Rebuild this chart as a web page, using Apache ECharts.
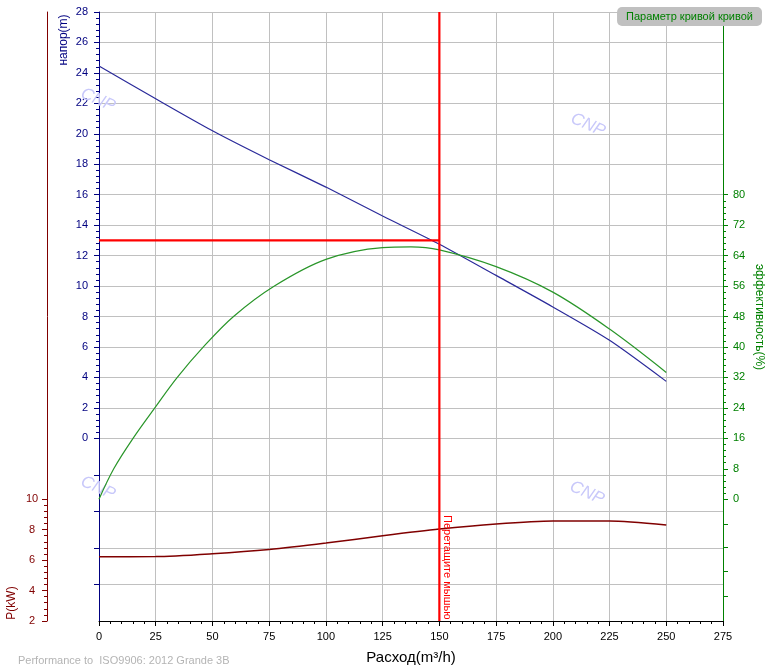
<!DOCTYPE html>
<html>
<head>
<meta charset="utf-8">
<script src="https://cdn.jsdelivr.net/npm/echarts@6/dist/echarts.min.js"></script>
<style>
html,body{margin:0;padding:0;background:#fff;}
#chart{width:769px;height:672px;}
</style>
</head>
<body>
<div id="chart"></div>
<script>
// ---- data ----
const flow = [0, 25, 50, 75, 100, 125, 150, 175, 200, 225, 250];
const head = [24.45, 22.3, 20.2, 18.3, 16.5, 14.6, 12.75, 10.7, 8.63, 6.44, 3.74];
const power = [6.22, 6.23, 6.42, 6.7, 7.12, 7.6, 8.04, 8.37, 8.56, 8.56, 8.31];
const effFlow = [0, 6.5, 15, 24.6, 34.5, 46, 59.3, 77.3, 100, 125, 137.5, 150, 175, 200, 225, 250];
const eff = [0, 8, 16, 24, 32, 40, 48, 56, 63, 66.1, 66.3, 65.5, 61.1, 54.4, 44.7, 33.3];
const cursorFlow = 150;
const cursorHead = 13;
const xTicks = [0, 25, 50, 75, 100, 125, 150, 175, 200, 225, 250, 275];
const headLabels = [0, 2, 4, 6, 8, 10, 12, 14, 16, 18, 20, 22, 24, 26, 28];
const headExtraTicks = [-2.4, -4.8, -7.2, -9.6];
const powerLabels = [2, 4, 6, 8, 10];
const effLabels = [0, 8, 16, 24, 32, 40, 48, 56, 64, 72, 80];
const effExtraTicks = [-6.7, -12.7, -19, -25.5];

const FONT = 'Liberation Sans, Arial, sans-serif';
const NAVY = '#000080', DRED = '#800000', GREEN = '#008000';

function minors(lo, hi, step, sub) {
  const out = [];
  const n = Math.round((hi - lo) / step) * sub;
  for (let i = 0; i <= n; i++) {
    if (i % sub === 0) continue;
    out.push(+(lo + i * step / sub).toFixed(4));
  }
  return out;
}

const chart = echarts.init(document.getElementById('chart'), null, {renderer: 'canvas'});

const splitColors = [];
for (let i = 0; i < 20; i++) splitColors.push('#c0c0c0');
splitColors.push('#ffc0c0');

const option = {
  animation: false,
  backgroundColor: '#fff',
  textStyle: {fontFamily: FONT},
  title: {
    text: 'Параметр кривой кривой',
    right: 7, top: 7,
    backgroundColor: '#c0c0c0',
    borderRadius: 5,
    padding: [4, 9, 4, 9],
    textStyle: {color: GREEN, fontSize: 11, fontWeight: 'normal', fontFamily: FONT}
  },
  grid: {left: 99, right: 46, top: 12, bottom: 51},
  xAxis: {
    type: 'value', min: 0, max: 275, interval: 25,
    axisLine: {onZero: false, lineStyle: {color: '#000', width: 1}},
    axisTick: {length: 5, lineStyle: {color: '#000'}},
    minorTick: {show: true, splitNumber: 5, length: 3, lineStyle: {color: '#000'}},
    axisLabel: {color: '#000', fontSize: 11, margin: 10, fontFamily: FONT,
      customValues: xTicks},
    splitLine: {show: true, lineStyle: {color: '#c0c0c0', width: 1}},
    name: 'Расход(m³/h)', nameLocation: 'middle', nameGap: 29,
    nameTextStyle: {color: '#000', fontSize: 15, fontFamily: FONT}
  },
  yAxis: [
    { // 0 head
      type: 'value', position: 'left', offset: 0, min: -12, max: 28, interval: 2,
      axisLine: {show: true, onZero: false, lineStyle: {color: NAVY, width: 1}},
      axisTick: {show: true, length: 5, lineStyle: {color: NAVY}, customValues: headLabels.concat(headExtraTicks)},
      axisLabel: {color: NAVY, fontSize: 11, margin: 11, fontFamily: FONT, customValues: headLabels,
        formatter: v => (v < 0 ? '' : String(v))},
      splitLine: {show: true, lineStyle: {color: splitColors, width: 1}}
    },
    { // 1 power
      type: 'value', position: 'left', offset: 52, min: 2, max: 42, interval: 2,
      axisLine: {show: true, onZero: false, lineStyle: {color: DRED, width: 1}},
      axisTick: {show: true, length: 5, lineStyle: {color: DRED}, customValues: powerLabels},
      axisLabel: {color: DRED, fontSize: 11, margin: 15, align: 'center', fontFamily: FONT, customValues: powerLabels,
        formatter: v => (v > 10 ? '' : String(v))},
      splitLine: {show: false}
    },
    { // 2 efficiency
      type: 'value', position: 'right', offset: 0, min: -32, max: 128, interval: 8,
      axisLine: {show: true, onZero: false, lineStyle: {color: GREEN, width: 1}},
      axisTick: {show: true, length: 5, lineStyle: {color: GREEN}, customValues: effLabels.concat(effExtraTicks)},
      axisLabel: {color: GREEN, fontSize: 11, margin: 10, fontFamily: FONT, customValues: effLabels,
        formatter: v => (v < 0 || v > 80 ? '' : String(v))},
      splitLine: {show: false}
    },
    { // 3 head minor ticks
      type: 'value', position: 'left', offset: 0, min: -12, max: 28, interval: 2,
      axisLine: {show: false, onZero: false},
      axisTick: {show: true, length: 3, lineStyle: {color: NAVY}, customValues: minors(0, 28, 2, 5)},
      axisLabel: {show: false}, splitLine: {show: false}
    },
    { // 4 power minor ticks
      type: 'value', position: 'left', offset: 52, min: 2, max: 42, interval: 2,
      axisLine: {show: false, onZero: false},
      axisTick: {show: true, length: 3, lineStyle: {color: DRED}, customValues: minors(2, 10, 2, 5)},
      axisLabel: {show: false}, splitLine: {show: false}
    },
    { // 5 efficiency minor ticks
      type: 'value', position: 'right', offset: 0, min: -32, max: 128, interval: 8,
      axisLine: {show: false, onZero: false},
      axisTick: {show: true, length: 3, lineStyle: {color: GREEN}, customValues: minors(0, 80, 8, 5)},
      axisLabel: {show: false}, splitLine: {show: false}
    }
  ],
  series: [
    {
      name: 'напор', type: 'line', yAxisIndex: 0, smooth: 0.25, showSymbol: false, z: 3,
      data: flow.map((f, i) => [f, head[i]]),
      lineStyle: {color: '#2a2a9a', width: 1.2}
    },
    {
      name: 'эффективность', type: 'line', yAxisIndex: 2, smooth: 0.35, showSymbol: false, z: 3,
      data: effFlow.map((f, i) => [f, eff[i]]),
      lineStyle: {color: '#2a962a', width: 1.2}
    },
    {
      name: 'P', type: 'line', yAxisIndex: 1, smooth: 0.25, showSymbol: false, z: 3,
      data: flow.map((f, i) => [f, power[i]]),
      lineStyle: {color: DRED, width: 1.5}
    },
    {
      name: 'cursorH', type: 'line', yAxisIndex: 0, showSymbol: false, z: 4,
      data: [[0, cursorHead], [cursorFlow, cursorHead]],
      lineStyle: {color: '#ff0000', width: 2.2}
    },
    {
      name: 'cursorV', type: 'line', yAxisIndex: 0, showSymbol: false, z: 5,
      data: [[cursorFlow, -12], [cursorFlow, 28]],
      lineStyle: {color: '#ff0000', width: 2.2}
    }
  ]
};
chart.setOption(option);

// text decorations
const cx = chart.convertToPixel({xAxisIndex: 0}, cursorFlow);
const wm = (x, y) => ({
  type: 'text', x: x, y: y, rotation: -0.42, z: 1,
  style: {text: 'CNP', fill: '#c8c8fa', font: 'italic 17px ' + FONT, textAlign: 'center', textVerticalAlign: 'middle'}
});
chart.setOption({
  graphic: [
    wm(98, 100), wm(588, 125), wm(98, 488), wm(587, 493),
    {type: 'text', x: cx + 8, y: 515, rotation: -Math.PI / 2, z: 10,
      style: {text: 'Перетащите мышью', fill: '#ff0000', font: '11px ' + FONT, textAlign: 'left', textVerticalAlign: 'middle'}},
    {type: 'text', x: 63.5, y: 40, rotation: Math.PI / 2, z: 10,
      style: {text: 'напор(m)', fill: NAVY, font: '12px ' + FONT, textAlign: 'center', textVerticalAlign: 'middle'}},
    {type: 'text', x: 11.5, y: 603, rotation: Math.PI / 2, z: 10,
      style: {text: 'P(kW)', fill: DRED, font: '12px ' + FONT, textAlign: 'center', textVerticalAlign: 'middle'}},
    {type: 'text', x: 759, y: 317, rotation: -Math.PI / 2, z: 10,
      style: {text: 'эффективность(%)', fill: GREEN, font: '12px ' + FONT, textAlign: 'center', textVerticalAlign: 'middle'}},
    {type: 'text', x: 18, y: 661, z: 10,
      style: {text: 'Performance to  ISO9906: 2012 Grande 3B', fill: '#b4b4b4', font: '11px ' + FONT, textAlign: 'left', textVerticalAlign: 'middle'}}
  ]
});
</script>
</body>
</html>
